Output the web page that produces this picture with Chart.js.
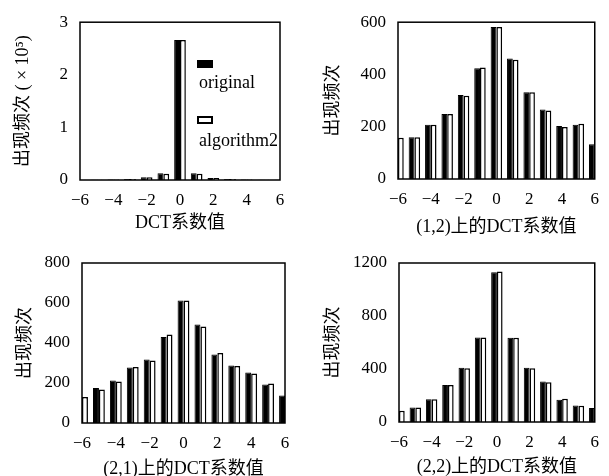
<!DOCTYPE html>
<html>
<head>
<meta charset="utf-8">
<script src="https://cdn.jsdelivr.net/npm/chart.js@4"></script>
<style>
    html, body { margin: 0; padding: 0; background: #fff; overflow: hidden; }
    body { width: 609px; height: 476px; position: relative; }
    .panel { position: absolute; }
    .legend { position: absolute; font: 18px "Liberation Serif", serif; color: #000; line-height: 18px; }
    .box { position: absolute; width: 16px; height: 8px; box-sizing: border-box; }
</style>
</head>
<body>
<div class="panel" style="left:0;top:0;width:300px;height:240px"><canvas id="c1"></canvas></div>
<div class="panel" style="left:300px;top:0;width:309px;height:240px"><canvas id="c2"></canvas></div>
<div class="panel" style="left:0;top:240px;width:300px;height:240px"><canvas id="c3"></canvas></div>
<div class="panel" style="left:300px;top:240px;width:309px;height:240px"><canvas id="c4"></canvas></div>

<div class="box" style="left:197px;top:60px;background:#000"></div>
<div class="legend" style="left:199px;top:73px">original</div>
<div class="box" style="left:197px;top:116px;background:#fff;border:2px solid #000"></div>
<div class="legend" style="left:199px;top:131px">algorithm2</div>

<script>
const coeffs = [-6, -5, -4, -3, -2, -1, 0, 1, 2, 3, 4, 5, 6];
const seriesNames = ['original', 'algorithm2'];

// (×10^5)
const dctOriginal = [0.005, 0.005, 0.01, 0.02, 0.05, 0.13, 2.66, 0.13, 0.04, 0.02, 0.01, 0.005, 0.003];
const dctAlgorithm2 = [0.005, 0.005, 0.01, 0.02, 0.05, 0.12, 2.66, 0.12, 0.04, 0.02, 0.01, 0.005, 0.003];

const pos12Original = [158, 160, 208, 249, 321, 424, 582, 461, 332, 266, 203, 208, 133];
const pos12Algorithm2 = [158, 160, 208, 249, 319, 427, 582, 456, 332, 262, 199, 211, 133];

const pos21Original = [130, 175, 213, 277, 317, 430, 613, 493, 343, 288, 252, 193, 138];
const pos21Algorithm2 = [130, 168, 208, 280, 313, 442, 613, 483, 350, 285, 247, 197, 138];

const pos22Original = [85, 110, 172, 280, 410, 638, 1130, 635, 410, 305, 168, 125, 105];
const pos22Algorithm2 = [85, 110, 172, 280, 405, 638, 1135, 635, 405, 300, 175, 122, 105];

const serif = '"Liberation Serif", "Noto Sans CJK SC", serif';
const minus = (v) => (v < 0 ? '\u2212' + Math.abs(v) : String(v));

// frame around the plot area
const frame = {
    id: 'frame',
    afterDatasetsDraw(chart) {
        const { ctx, chartArea: a } = chart;
        ctx.save();
        ctx.strokeStyle = '#000';
        ctx.lineWidth = 1.5;
        ctx.strokeRect(a.left, a.top, a.right - a.left, a.bottom - a.top);
        ctx.restore();
    },
};

function panel(id, p) {
    const pts = (vals) => coeffs.map((x, i) => ({ x, y: vals[i] }));
    new Chart(document.getElementById(id), {
        type: 'bar',
        data: {
            datasets: [
                { label: seriesNames[0], data: pts(p.a), backgroundColor: '#000', borderColor: '#000', borderWidth: 1 },
                { label: seriesNames[1], data: pts(p.b), backgroundColor: '#fff', borderColor: '#000', borderWidth: 1.5 },
            ],
        },
        options: {
            responsive: true,
            maintainAspectRatio: false,
            animation: false,
            clip: 0,
            categoryPercentage: 0.7,
            barPercentage: 1,
            layout: { padding: { left: 0, top: p.top, right: p.right, bottom: p.bottom } },
            plugins: { legend: { display: false }, tooltip: { enabled: false } },
            scales: {
                x: {
                    type: 'linear', offset: false, min: -6, max: 6,
                    grid: { display: false, drawTicks: false },
                    border: { display: false },
                    ticks: { stepSize: 2, padding: 10, color: '#000', font: { family: serif, size: 17 }, callback: minus, maxRotation: 0 },
                    title: { display: true, text: p.xTitle, color: '#000', font: { family: serif, size: 18 }, padding: { top: 0, bottom: 0 } },
                    afterFit: (s) => { s.height = p.xh; },
                },
                y: {
                    min: 0, max: p.max,
                    grid: { display: false, drawTicks: false },
                    border: { display: false },
                    ticks: { stepSize: p.step, padding: 12, color: '#000', font: { family: serif, size: 17 }, callback: (v) => String(v) },
                    title: { display: true, text: p.yTitle, color: '#000', font: { family: serif, size: 18 }, padding: { top: p.yt, bottom: 0 } },
                    afterFit: (s) => { s.width = p.yw; },
                },
            },
        },
        plugins: [frame],
    });
}

panel('c1', { a: dctOriginal, b: dctAlgorithm2, max: 3, step: 1, xTitle: 'DCT系数值', yTitle: '出现频次 ( × 10⁵)',
    top: 20, right: 20, bottom: 6, xh: 54, yw: 80, yt: 12 });
panel('c2', { a: pos12Original, b: pos12Algorithm2, max: 600, step: 200, xTitle: '(1,2)上的DCT系数值', yTitle: '出现频次',
    top: 20, right: 5, bottom: 2, xh: 59, yw: 98, yt: 22 });
panel('c3', { a: pos21Original, b: pos21Algorithm2, max: 800, step: 200, xTitle: '(2,1)上的DCT系数值', yTitle: '出现频次',
    top: 23, right: 15, bottom: 0, xh: 57, yw: 82, yt: 14 });
panel('c4', { a: pos22Original, b: pos22Algorithm2, max: 1200, step: 400, xTitle: '(2,2)上的DCT系数值', yTitle: '出现频次',
    top: 23, right: 6, bottom: 2, xh: 56, yw: 99, yt: 22 });
</script>
</body>
</html>
